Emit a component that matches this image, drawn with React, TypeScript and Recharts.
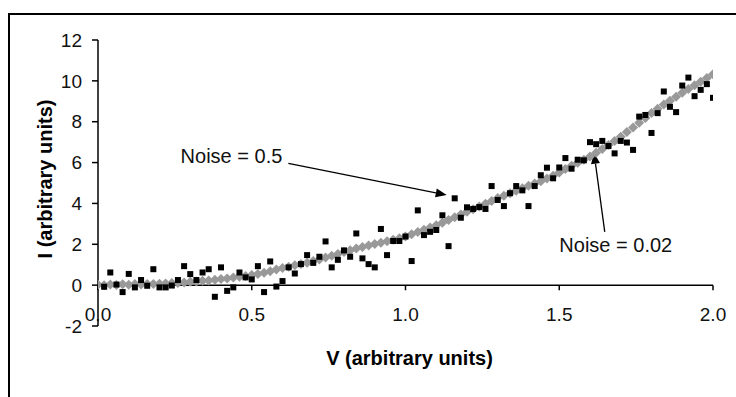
import React from 'react';
import { ScatterChart, Scatter, XAxis, YAxis, ReferenceLine } from 'recharts';

// Voltage values (arbitrary units)
const V = [
  0.0, 0.02, 0.04, 0.06, 0.08, 0.1, 0.12, 0.14, 0.16, 0.18,
  0.2, 0.22, 0.24, 0.26, 0.28, 0.3, 0.32, 0.34, 0.36, 0.38,
  0.4, 0.42, 0.44, 0.46, 0.48, 0.5, 0.52, 0.54, 0.56, 0.58,
  0.6, 0.62, 0.64, 0.66, 0.68, 0.7, 0.72, 0.74, 0.76, 0.78,
  0.8, 0.82, 0.84, 0.86, 0.88, 0.9, 0.92, 0.94, 0.96, 0.98,
  1.0, 1.02, 1.04, 1.06, 1.08, 1.1, 1.12, 1.14, 1.16, 1.18,
  1.2, 1.22, 1.24, 1.26, 1.28, 1.3, 1.32, 1.34, 1.36, 1.38,
  1.4, 1.42, 1.44, 1.46, 1.48, 1.5, 1.52, 1.54, 1.56, 1.58,
  1.6, 1.62, 1.64, 1.66, 1.68, 1.7, 1.72, 1.74, 1.76, 1.78,
  1.8, 1.82, 1.84, 1.86, 1.88, 1.9, 1.92, 1.94, 1.96, 1.98,
  2.0,
];

// Current, noise = 0.5 (black squares), for V = 0.02 .. 2.00
const I_NOISE_05 = [
  -0.08, 0.62, 0.03, -0.34, 0.55, -0.11, 0.25, -0.03, 0.78, -0.11,
  -0.11, -0.02, 0.25, 0.93, 0.54, 0.25, 0.62, 0.78, -0.57, 0.87,
  -0.28, -0.11, 0.62, 0.38, 0.28, 0.93, -0.34, 1.16, -0.07, 0.2,
  0.87, 0.57, 1.03, 1.47, 1.09, 1.39, 2.14, 0.87, 1.24, 1.7,
  1.39, 2.53, 1.31, 1.03, 0.87, 2.75, 1.47, 2.16, 2.16, 2.38,
  1.18, 3.66, 2.45, 2.61, 2.7, 3.42, 1.91, 4.25, 3.3, 3.81,
  3.73, 3.82, 3.73, 4.85, 4.17, 3.87, 4.5, 4.85, 4.64, 3.87,
  4.85, 5.38, 5.75, 5.23, 5.76, 6.22, 5.7, 6.14, 6.11, 7.0,
  6.9, 7.06, 6.81, 6.45, 7.06, 6.98, 6.62, 8.25, 8.33, 7.45,
  8.42, 9.48, 8.73, 8.47, 9.77, 10.16, 9.25, 9.56, 9.84, 9.17,
];

// Current, noise = 0.02 (grey diamonds), for V = 0.00 .. 2.00
const I_NOISE_002 = [
  0.02, 0.0, 0.03, 0.01, 0.04, 0.02, 0.05, 0.03, 0.06, 0.05,
  0.07, 0.08, 0.1, 0.11, 0.13, 0.16, 0.18, 0.21, 0.23, 0.26,
  0.3, 0.33, 0.37, 0.41, 0.45, 0.5, 0.55, 0.61, 0.68, 0.76,
  0.84, 0.9, 0.97, 1.03, 1.1, 1.18, 1.26, 1.35, 1.44, 1.53,
  1.62, 1.71, 1.79, 1.87, 1.94, 2.01, 2.08, 2.15, 2.22, 2.29,
  2.38, 2.49, 2.6, 2.71, 2.82, 2.93, 3.06, 3.19, 3.32, 3.46,
  3.59, 3.72, 3.85, 3.98, 4.12, 4.26, 4.38, 4.5, 4.62, 4.74,
  4.86, 4.97, 5.09, 5.22, 5.36, 5.52, 5.68, 5.84, 5.99, 6.14,
  6.3, 6.48, 6.67, 6.86, 7.05, 7.27, 7.5, 7.72, 7.95, 8.18,
  8.43, 8.63, 8.84, 9.03, 9.22, 9.42, 9.6, 9.78, 9.96, 10.14,
  10.32,
];

const X_TICKS = [0, 0.5, 1.0, 1.5, 2.0];
const Y_TICKS = [-2, 0, 2, 4, 6, 8, 10, 12];

// Annotation arrows: [start, tip] in data units
const ARROW_05 = [{ x: 0.619, y: 5.96 }, { x: 1.134, y: 4.41 }];
const ARROW_002 = [{ x: 1.648, y: 2.61 }, { x: 1.613, y: 6.48 }];
const LABEL_05 = 'Noise = 0.5';
const LABEL_002 = 'Noise = 0.02';

const FONT = '"Liberation Sans", Arial, sans-serif';

const blackData = I_NOISE_05.map((val, k) => ({ v: V[k + 1], i: val }));
const greyData = I_NOISE_002.map((val, k) => ({ v: V[k], i: val }));

const Square = (p: any) => {
  const { cx, cy } = p;
  if (cx == null || cy == null) return null;
  return <rect x={cx - 3} y={cy - 3} width={6} height={6} fill="#000" />;
};

const Diamond = (p: any) => {
  const { cx, cy } = p;
  if (cx == null || cy == null) return null;
  const r = 5;
  return (
    <polygon
      points={`${cx},${cy - r} ${cx + r},${cy} ${cx},${cy + r} ${cx - r},${cy}`}
      fill="#999999"
    />
  );
};

const makeArrow = (label: string, anchor: string, dx: number, dy: number) => (p: any) => {
  const { x1, y1, x2, y2 } = p;
  if ([x1, y1, x2, y2].some((q) => q == null || isNaN(q))) return null;
  const ang = Math.atan2(y2 - y1, x2 - x1);
  const len = 11;
  const hw = 4.5;
  const bx = x2 - len * Math.cos(ang);
  const by = y2 - len * Math.sin(ang);
  const nx = -Math.sin(ang);
  const ny = Math.cos(ang);
  return (
    <g>
      <line x1={x1} y1={y1} x2={bx} y2={by} stroke="#000" strokeWidth={1.3} />
      <polygon
        points={`${x2},${y2} ${bx + nx * hw},${by + ny * hw} ${bx - nx * hw},${by - ny * hw}`}
        fill="#000"
      />
      <text
        x={x1 + dx}
        y={y1 + dy}
        textAnchor={anchor as any}
        fontFamily={FONT}
        fontSize={20}
        fill="#111"
      >
        {label}
      </text>
    </g>
  );
};

const XTick = (p: any) => {
  const { x, y, payload } = p;
  return (
    <text x={x} y={y} dy={-13} textAnchor="middle" fontFamily={FONT} fontSize={19} fill="#111">
      {Number(payload.value).toFixed(1)}
    </text>
  );
};

const XTitle = (p: any) => {
  const vb = p.viewBox || {};
  return (
    <text
      x={vb.x + vb.width / 2 + 4}
      y={vb.y + 39}
      textAnchor="middle"
      fontFamily={FONT}
      fontSize={20}
      fontWeight="bold"
      fill="#000"
    >
      V (arbitrary units)
    </text>
  );
};

const YTitle = (p: any) => {
  const vb = p.viewBox || {};
  const cx = vb.x + 52;
  const cy = vb.y + vb.height / 2 - 4;
  return (
    <text
      x={cx}
      y={cy}
      transform={`rotate(-90, ${cx}, ${cy})`}
      textAnchor="middle"
      fontFamily={FONT}
      fontSize={20}
      fontWeight="bold"
      fill="#000"
    >
      I (arbitrary units)
    </text>
  );
};

export default function App() {
  return (
    <div
      style={{
        position: 'absolute',
        left: 0,
        top: 0,
        width: 736,
        height: 397,
        overflow: 'hidden',
        background: '#fff',
      }}
    >
      <div
        style={{
          position: 'absolute',
          left: 8,
          top: 13,
          width: 900,
          height: 600,
          border: '2px solid #000',
        }}
      />
      <div style={{ position: 'absolute', left: 0, top: 0 }}>
        <ScatterChart width={736} height={397} margin={{ top: 40, right: 23, bottom: 0, left: 0 }}>
          <XAxis
            type="number"
            dataKey="v"
            domain={[0, 2]}
            ticks={X_TICKS}
            axisLine={false}
            tickLine={false}
            height={71}
            tick={<XTick />}
            interval={0}
            allowDataOverflow
            label={<XTitle />}
          />
          <YAxis
            type="number"
            dataKey="i"
            domain={[-2, 12]}
            ticks={Y_TICKS}
            width={98}
            axisLine={{ stroke: '#000', strokeWidth: 1.5 }}
            tickLine={{ stroke: '#000', strokeWidth: 1.5 }}
            tickSize={6}
            tickMargin={10}
            interval={0}
            allowDataOverflow
            tick={{ fontFamily: FONT, fontSize: 19, fill: '#111' }}
            label={<YTitle />}
          />
          <ReferenceLine y={0} stroke="#000" strokeWidth={1.5} />
          {X_TICKS.map((t) => (
            <ReferenceLine
              key={'xt' + t}
              segment={[
                { x: t, y: 0 },
                { x: t, y: -0.25 },
              ]}
              stroke="#000"
              strokeWidth={1.5}
            />
          ))}
          <Scatter data={greyData} fill="#999999" shape={<Diamond />} isAnimationActive={false} />
          <Scatter data={blackData} fill="#000" shape={<Square />} isAnimationActive={false} />
          <ReferenceLine segment={ARROW_05} shape={makeArrow(LABEL_05, 'end', -6, 0)} />
          <ReferenceLine segment={ARROW_002} shape={makeArrow(LABEL_002, 'middle', 11, 20)} />
        </ScatterChart>
      </div>
    </div>
  );
}
